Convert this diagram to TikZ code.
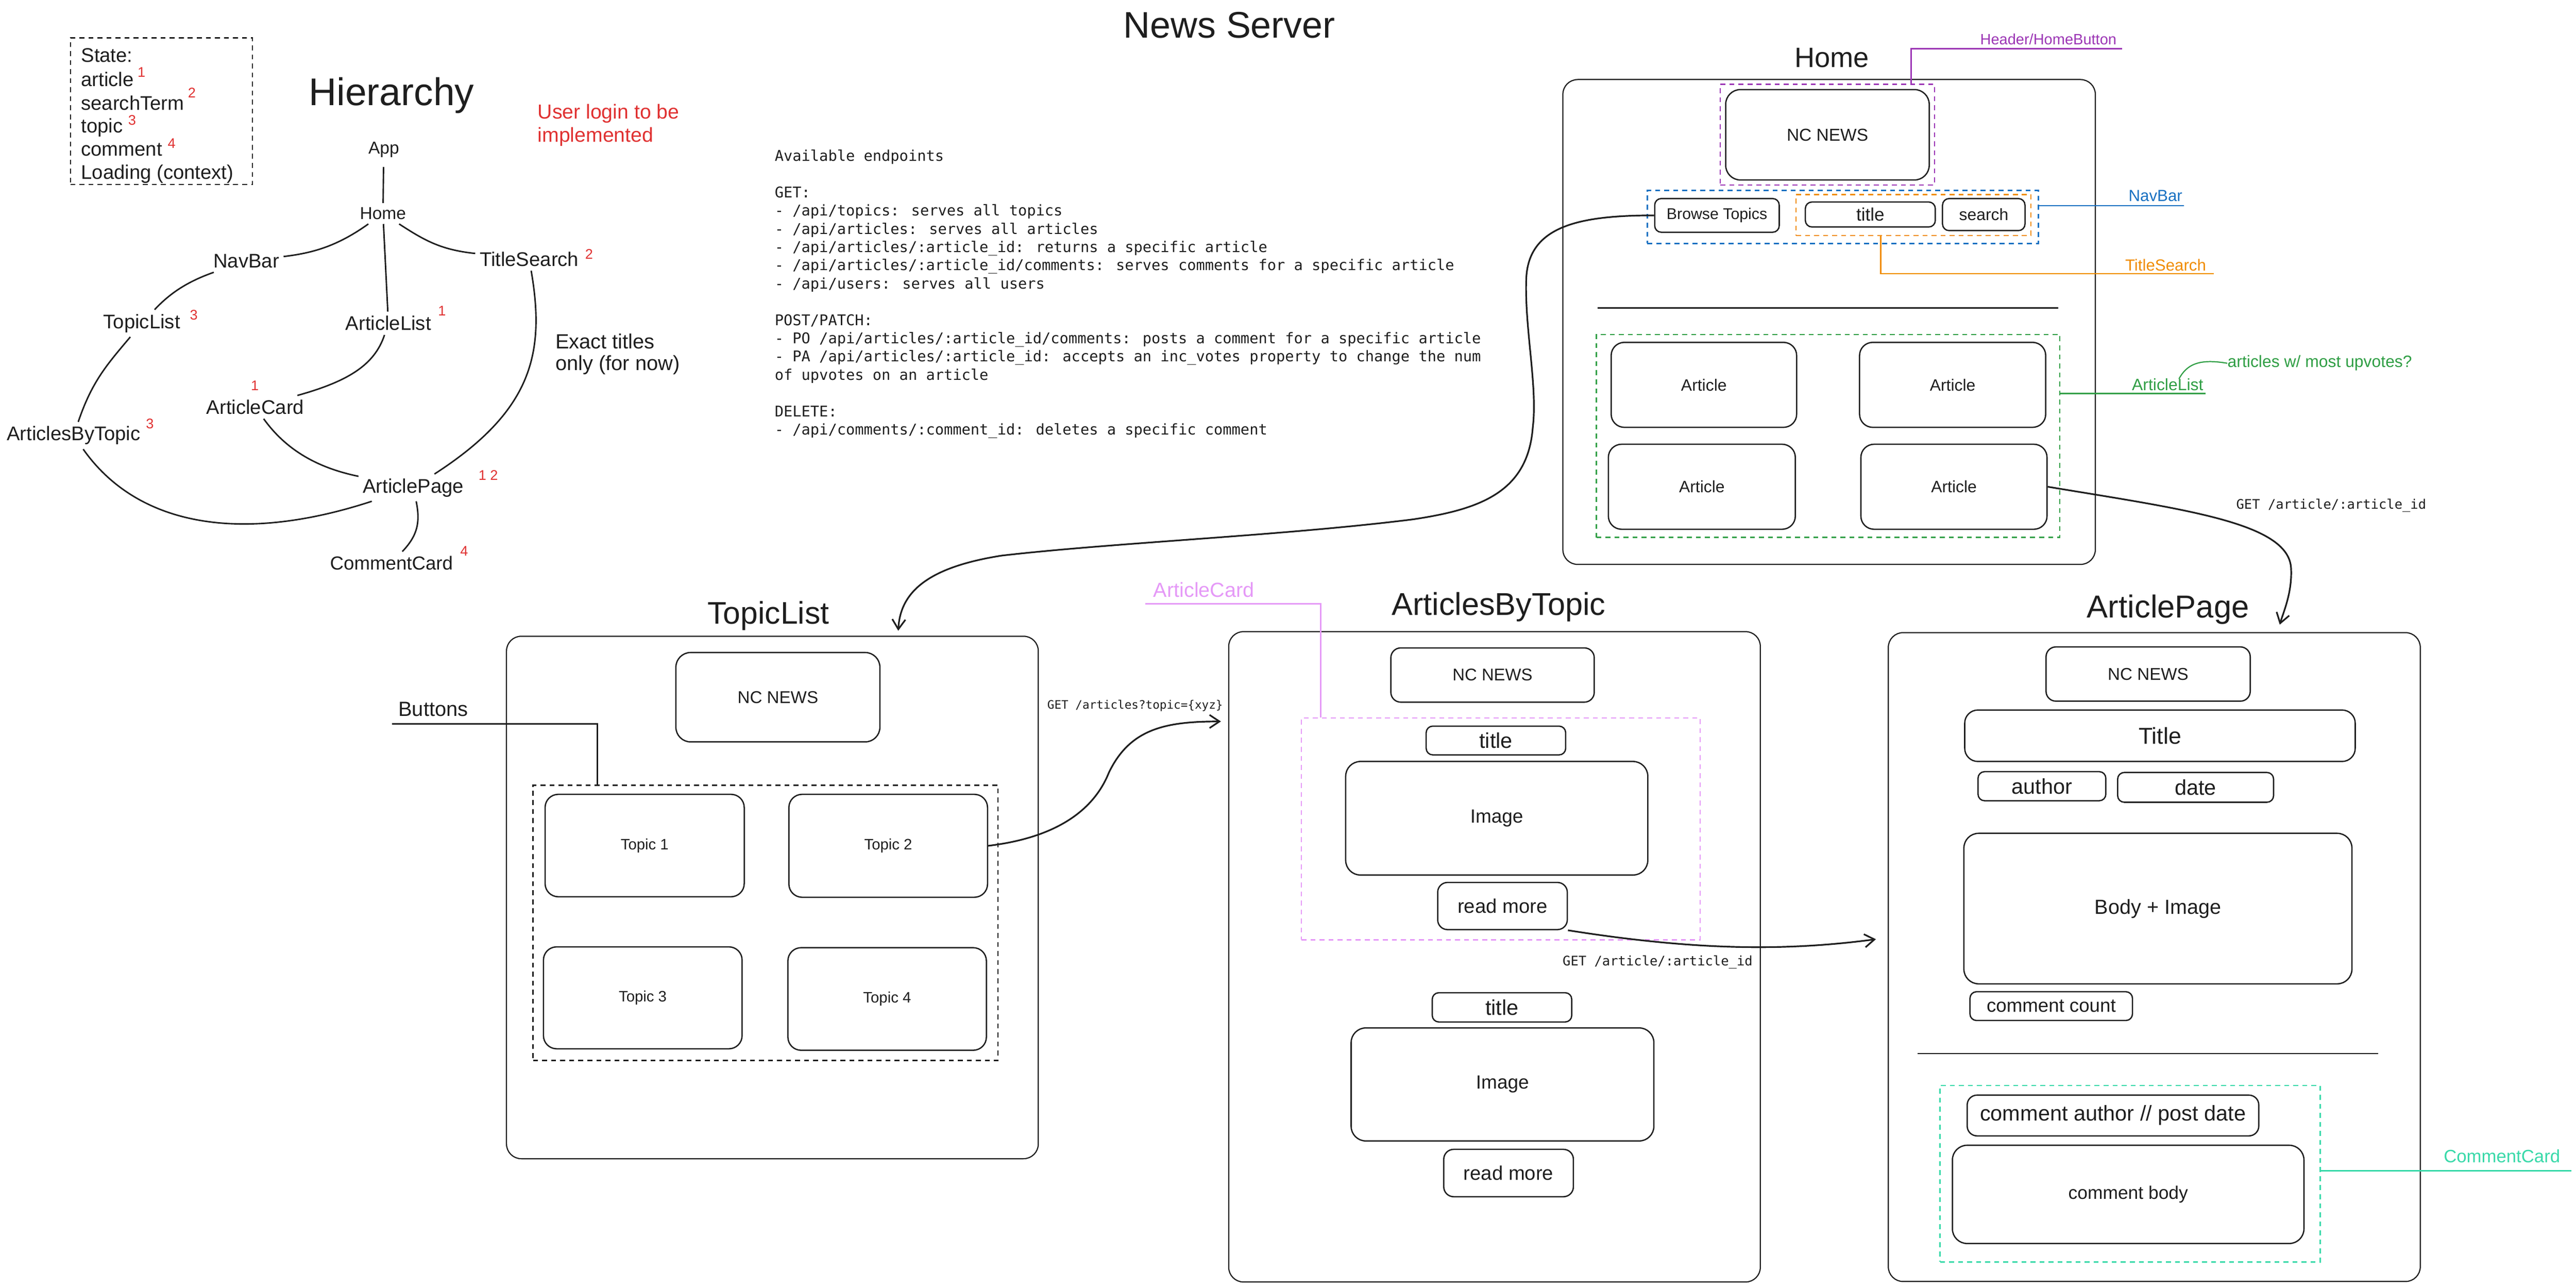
\documentclass[tikz,border=0pt]{standalone}
\usepackage{fontspec}
\newfontfamily\handfam{Liberation Sans}
\newfontfamily\monofam{DejaVu Sans Mono}
\usetikzlibrary{arrows.meta,calc}
\newcommand\hfnt[1]{\handfam\fontsize{#1}{#1}\selectfont}
\newcommand\mfnt[1]{\monofam\fontsize{#1}{#1}\selectfont}
\definecolor{ink}{HTML}{1E1E1E}
\definecolor{redc}{HTML}{E03131}
\definecolor{violetc}{HTML}{9C36B5}
\definecolor{bluec}{HTML}{1971C2}
\definecolor{orangec}{HTML}{F08C00}
\definecolor{greenc}{HTML}{2F9E44}
\definecolor{pinkc}{HTML}{E599F7}
\definecolor{tealc}{HTML}{38D9A9}
\newcommand\mkbox[7]{%
  \pgfmathsetmacro\mkw{#5-#3}\pgfmathsetmacro\mkh{#6-#4}%
  \pgfmathsetmacro\mkx{(#3+#5)/2}\pgfmathsetmacro\mky{(#4+#6)/2}%
  \node[#1, minimum width=\mkw pt, minimum height=\mkh pt] (#2) at (\mkx,\mky) {#7};}
\begin{document}
\begin{tikzpicture}[x=1pt,y=-1pt,
  frame/.style={draw=ink, line width=0.7pt, rounded corners=9pt, inner sep=0pt},
  wbox/.style={draw=ink, line width=0.8pt, rounded corners=6pt, inner sep=0pt, text=ink},
  dbox/.style={draw=#1, line width=0.8pt, dash pattern=on 3pt off 2.5pt, inner sep=0pt},
  lbl/.style={inner sep=0pt, text=ink},
  hl/.style={inner sep=2.5pt, text=ink, font=\hfnt{12}},
  sup/.style={inner sep=0pt, text=redc, font=\hfnt{8.5}},
  hedge/.style={draw=ink, line width=0.9pt},
  conn/.style={draw=ink, line width=1pt},
  arr/.style={conn, -{Straight Barb[length=6pt,width=8pt]}},
  lead/.style={draw=#1, line width=0.9pt},
  ep/.style={inner sep=0pt, text=ink, anchor=base west, font=\mfnt{9}},
]
\fill[white] (0,0) rectangle (1568,782.8);
\useasboundingbox (0,0) rectangle (1568,782.8);

% ---------------- State box ----------------
\mkbox{dbox=ink}{statebox}{42.9}{23}{153.7}{112.3}{}
\node[lbl, font=\hfnt{12}, anchor=base west] (st0) at (49.2,37.9) {State:};
\node[lbl, font=\hfnt{12}, anchor=base west] (st1) at (49.2,52.6) {article};
\node[lbl, font=\hfnt{12}, anchor=base west] (st2) at (49.2,66.8) {searchTerm};
\node[lbl, font=\hfnt{12}, anchor=base west] (st3) at (49.2,80.6) {topic};
\node[lbl, font=\hfnt{12}, anchor=base west] (st4) at (49.2,94.8) {comment};
\node[lbl, font=\hfnt{12}, anchor=base west] (st5) at (49.2,109) {Loading (context)};
\node[sup] (ss1) at ($(st1.base east)+(4.5,-8.8)$) {1};
\node[sup] (ss2) at ($(st2.base east)+(4.5,-10.4)$) {2};
\node[sup] (ss3) at ($(st3.base east)+(5.5,-7.6)$) {3};
\node[sup] (ss4) at ($(st4.base east)+(5.5,-7.6)$) {4};

% ---------------- Hierarchy ----------------
\node[lbl, font=\hfnt{23.5}, anchor=base] (hiertitle) at (238.3,64) {Hierarchy};
\node[lbl, text=redc, font=\hfnt{12.3}, anchor=base west] (login1) at (327.1,72.3) {User login to be};
\node[lbl, text=redc, font=\hfnt{12.3}, anchor=base west] (login2) at (327.1,86.5) {implemented};

\node[hl, font=\hfnt{10.5}] (happ) at (233.6,91.2) {App};
\node[hl, font=\hfnt{10.5}] (hhome) at (233.1,129.9) {Home};
\node[hl] (hnav) at (149.9,158.8) {NavBar};
\node[hl] (hts) at (322.1,157.6) {TitleSearch};
\node[hl] (htl) at (86.3,196.7) {TopicList};
\node[hl] (hal) at (236.4,196.7) {ArticleList};
\node[hl] (hac) at (155.4,247.7) {ArticleCard};
\node[hl] (habt) at (44.8,265) {ArticlesByTopic};
\node[hl] (hap) at (251.6,296.7) {ArticlePage};
\node[hl, font=\hfnt{11.5}] (hcc) at (238.3,342.5) {CommentCard};

\node[sup] (hs1) at (358.6,154.5) {2};
\node[sup] (hs2) at (118,191.5) {3};
\node[sup] (hs3) at (269,189) {1};
\node[sup] (hs4) at (155.1,234.6) {1};
\node[sup] (hs5) at (91.2,257.9) {3};
\node[sup] (hs6) at (297.2,289.1) {1 2};
\node[sup] (hs7) at (282.5,335.4) {4};

\node[lbl, font=\hfnt{12.5}, anchor=base west] (exact1) at (337.9,212.1) {Exact titles};
\node[lbl, font=\hfnt{12.5}, anchor=base west] (exact2) at (337.9,225.2) {only (for now)};

\draw[hedge, shorten <=3pt] (happ) -- (hhome);
\draw[hedge] (hhome) .. controls (205,150) and (190,154) .. (hnav);
\draw[hedge] (hhome) -- (hal);
\draw[hedge] (hhome) .. controls (258,146) and (268,152) .. (hts);
\draw[hedge] (hnav) .. controls (112,172) and (102,180) .. (htl);
\draw[hedge] (htl) .. controls (65,222) and (56,232) .. (habt);
\draw[hedge] (hal) .. controls (228,222) and (212,232) .. (hac);
\draw[hedge] (hac) .. controls (175,275) and (195,285) .. (hap);
\draw[hedge] (hts) .. controls (332,215) and (324,250) .. (hap);
\draw[hedge] (habt) .. controls (85,322) and (150,330) .. (hap);
\draw[hedge] (hap) .. controls (256,318) and (254,326) .. (hcc);

% ---------------- Title and endpoints ----------------
\node[lbl, font=\hfnt{22.5}, anchor=base] (newstitle) at (748.3,23.1) {News Server};
\node[ep] (ep0) at (471.4,98) {Available endpoints};
\node[ep] (ep2) at (471.4,120.2) {GET:};
\node[ep] (ep3) at (471.4,131.3) {- /api/topics: serves all topics};
\node[ep] (ep4) at (471.4,142.4) {- /api/articles: serves all articles};
\node[ep] (ep5) at (471.4,153.5) {- /api/articles/:article\_id: returns a specific article};
\node[ep] (ep6) at (471.4,164.6) {- /api/articles/:article\_id/comments: serves comments for a specific article};
\node[ep] (ep7) at (471.4,175.7) {- /api/users: serves all users};
\node[ep] (ep9) at (471.4,197.9) {POST/PATCH:};
\node[ep] (ep10) at (471.4,209) {- PO /api/articles/:article\_id/comments: posts a comment for a specific article};
\node[ep] (ep11) at (471.4,220.1) {- PA /api/articles/:article\_id: accepts an inc\_votes property to change the num};
\node[ep] (ep12) at (471.4,231.2) {of upvotes on an article};
\node[ep] (ep14) at (471.4,253.4) {DELETE:};
\node[ep] (ep15) at (471.4,264.5) {- /api/comments/:comment\_id: deletes a specific comment};

% ---------------- Home ----------------
\node[lbl, font=\hfnt{17}, anchor=base] (hometitle) at (1115,40.9) {Home};
\mkbox{frame}{homeframe}{951.3}{48.4}{1275.4}{343.4}{}
\mkbox{dbox=violetc}{hdrbox}{1047.1}{51.3}{1177.5}{112.6}{}
\mkbox{wbox, rounded corners=9pt, font=\hfnt{10.5}}{ncn1}{1050.4}{54.5}{1174.3}{109.5}{NC NEWS}
\node[lbl, text=violetc, font=\hfnt{9.1}] (hdrlbl) at (1246.8,23.8) {Header/HomeButton};
\coordinate (hdrend) at (1291.7,29.5);
\draw[lead=violetc] (hdrend) -| ([xshift=51pt]hdrbox.north);

\mkbox{dbox=bluec}{navbox}{1002.7}{115.8}{1240.7}{148.1}{}
\mkbox{wbox, rounded corners=4pt, font=\hfnt{9.5}}{browse}{1007.2}{120.8}{1083}{141.3}{Browse Topics}
\mkbox{dbox=orangec}{tsbox}{1093.2}{118.3}{1236.2}{143.3}{}
\mkbox{wbox, rounded corners=4pt, font=\hfnt{11}}{titlebox}{1098.9}{122.9}{1178}{138.1}{title}
\mkbox{wbox, rounded corners=4pt, font=\hfnt{10}}{searchbox}{1182.4}{120.8}{1232.6}{140.3}{search}
\node[lbl, text=bluec, font=\hfnt{9.8}] (navlbl) at (1312,119) {NavBar};
\coordinate (navend) at (1329.2,125.1);
\draw[lead=bluec] (navbox.east |- navend) -- (navend);
\node[lbl, text=orangec, font=\hfnt{9.8}] (tslbl) at (1318.2,161.2) {TitleSearch};
\coordinate (tsend) at (1347.5,166.5);
\draw[lead=orangec] ([xshift=-19.8pt]tsbox.south) |- (tsend);

\draw[ink, line width=0.7pt] (972.5,187.4) -- (1252.9,187.4);

\mkbox{dbox=greenc}{albox}{971.7}{203.5}{1253.8}{327}{}
\mkbox{wbox, rounded corners=8pt, font=\hfnt{10}}{art1}{980.7}{208.3}{1093.6}{260}{Article}
\mkbox{wbox, rounded corners=8pt, font=\hfnt{10}}{art2}{1131.9}{208.3}{1245.2}{260}{Article}
\mkbox{wbox, rounded corners=8pt, font=\hfnt{10}}{art3}{979}{270.3}{1092.8}{322}{Article}
\mkbox{wbox, rounded corners=8pt, font=\hfnt{10}}{art4}{1132.7}{270.3}{1246}{322}{Article}
\node[lbl, text=greenc, font=\hfnt{10}] (allbl) at (1319.4,233.9) {ArticleList};
\coordinate (alend) at (1342.6,239.4);
\draw[lead=greenc] (albox.east |- alend) -- (alend);
\node[lbl, text=greenc, font=\hfnt{10}, anchor=west] (upv) at (1355.7,221) {articles w/ most upvotes?};
\coordinate (upvstart) at (1326.3,230.5);
\draw[lead=greenc, line width=0.7pt] (upvstart) .. controls (1331,222) and (1338,218) .. (upv.west);
\node[lbl, font=\mfnt{8}, anchor=west] (getid1) at (1361,307.7) {GET /article/:article\_id};

% ---------------- TopicList ----------------
\node[lbl, font=\hfnt{19}, anchor=base] (tltitle) at (467.7,379.5) {TopicList};
\mkbox{frame}{tlframe}{308.3}{387.1}{632}{705}{}
\mkbox{wbox, rounded corners=9pt, font=\hfnt{10.4}}{ncn2}{411.4}{397}{535.6}{451.4}{NC NEWS}
\node[lbl, font=\hfnt{12.5}] (btnlbl) at (263.7,431.4) {Buttons};
\coordinate (btnstart) at (238.5,440.4);
\mkbox{dbox=ink}{tldash}{324.5}{477.7}{607.5}{645.2}{}
\draw[lead=ink] (btnstart) -| ([xshift=-102.3pt]tldash.north);
\mkbox{wbox, rounded corners=8pt, font=\hfnt{9.2}}{topic1}{331.8}{483.3}{453}{545.6}{Topic 1}
\mkbox{wbox, rounded corners=8pt, font=\hfnt{9.2}}{topic2}{480.2}{483.3}{601.1}{545.9}{Topic 2}
\mkbox{wbox, rounded corners=8pt, font=\hfnt{9.2}}{topic3}{330.8}{576.1}{451.7}{638.1}{Topic 3}
\mkbox{wbox, rounded corners=8pt, font=\hfnt{9.2}}{topic4}{479.6}{576.6}{600.4}{639}{Topic 4}
\node[lbl, font=\mfnt{7.1}, anchor=west] (getq) at (637.3,429.4) {GET /articles?topic=\{xyz\}};

% ---------------- ArticlesByTopic ----------------
\node[lbl, font=\hfnt{19.2}, anchor=base] (abttitle) at (912.2,374.4) {ArticlesByTopic};
\mkbox{frame}{abtframe}{747.9}{384.3}{1071.5}{780}{}
\mkbox{wbox, font=\hfnt{10.3}}{ncn3}{846.6}{394.2}{970.4}{427.2}{NC NEWS}
\mkbox{dbox=pinkc}{acbox}{792.2}{436.8}{1034.9}{571.8}{}
\mkbox{wbox, rounded corners=4pt, font=\hfnt{13}}{title1}{868.1}{441.8}{953}{459.3}{title}
\mkbox{wbox, rounded corners=9pt, font=\hfnt{11.6}}{img1}{819.1}{463.3}{1003}{532.4}{Image}
\mkbox{wbox, font=\hfnt{12}}{rm1}{875.1}{536.9}{954}{565.6}{read more}
\mkbox{wbox, rounded corners=4pt, font=\hfnt{13}}{title2}{871.8}{604}{956.7}{621.8}{title}
\mkbox{wbox, rounded corners=9pt, font=\hfnt{11.6}}{img2}{822.4}{625.4}{1006.7}{694.2}{Image}
\mkbox{wbox, font=\hfnt{12}}{rm2}{878.8}{699.3}{957.7}{728.1}{read more}
\node[lbl, text=pinkc, font=\hfnt{12.4}] (aclbl) at (732.8,358.9) {ArticleCard};
\coordinate (acstart) at (697.2,367.4);
\draw[lead=pinkc] (acstart) -| ([xshift=-109.65pt]acbox.north);
\node[lbl, font=\mfnt{8}, anchor=west] (getid2) at (951,585.4) {GET /article/:article\_id};

% ---------------- ArticlePage ----------------
\node[lbl, font=\hfnt{19.3}, anchor=base] (aptitle) at (1319.7,375.9) {ArticlePage};
\mkbox{frame}{apframe}{1149.4}{384.9}{1473.2}{779.7}{}
\mkbox{wbox, font=\hfnt{10.4}}{ncn4}{1245.4}{393.6}{1369.7}{426.6}{NC NEWS}
\mkbox{wbox, rounded corners=8pt, font=\hfnt{14}}{aptitlebox}{1195.9}{432}{1433.6}{463.3}{Title}
\mkbox{wbox, rounded corners=4pt, font=\hfnt{13}}{author}{1204}{469.5}{1281.8}{487.2}{author}
\mkbox{wbox, rounded corners=4pt, font=\hfnt{13}}{date}{1289}{470}{1383.9}{488.1}{date}
\mkbox{wbox, rounded corners=9pt, font=\hfnt{12.4}}{body}{1195.4}{507}{1431.6}{598.6}{Body + Image}
\mkbox{wbox, rounded corners=4pt, font=\hfnt{11.5}}{ccount}{1199.1}{603.4}{1298}{620.9}{comment count}
\draw[ink, line width=0.7pt] (1167.3,640.9) -- (1447.7,640.9);
\mkbox{dbox=tealc}{ccbox}{1180.9}{660.4}{1412.2}{767.8}{}
\mkbox{wbox, font=\hfnt{13}}{cauth}{1197.4}{666.3}{1374.9}{691.1}{comment author // post date}
\mkbox{wbox, rounded corners=9pt, font=\hfnt{11.1}}{cbody}{1188.4}{696.8}{1402.4}{756.6}{comment body}
\node[lbl, text=tealc, font=\hfnt{10.9}] (cclbl) at (1522.9,703.3) {CommentCard};
\coordinate (ccend) at (1565.1,712.3);
\draw[lead=tealc] (ccbox.east |- ccend) -- (ccend);

% ---------------- Arrows ----------------
\coordinate (tltip) at ($(tlframe.north west)+(238.8,-3)$);
\draw[arr] (browse.west) .. controls (960,131) and (930,138) .. (929,170)
  .. controls (928,200) and (936,235) .. (933,260)
  .. controls (930,300) and (900,310) .. (860,316)
  .. controls (780,326) and (680,330) .. (610,338)
  .. controls (565,345) and (548,360) .. (tltip);
\coordinate (abtin) at ($(abtframe.north west)+(-4.4,55)$);
\draw[arr] (topic2.east) .. controls (640,510) and (665,495) .. (675,470)
  .. controls (688,443) and (710,439) .. (abtin);
\coordinate (apin) at ($(apframe.north west)+(-7.2,186.9)$);
\draw[arr] (rm1.south east) .. controls (1030,578) and (1085,579) .. (apin);
\coordinate (apin2) at ($(apframe.north west)+(238.6,-4.5)$);
\draw[arr] (art4.east) .. controls (1330,310) and (1392,318) .. (1394.5,345)
  .. controls (1395.5,360) and (1390,372) .. (apin2);
\end{tikzpicture}
\end{document}
